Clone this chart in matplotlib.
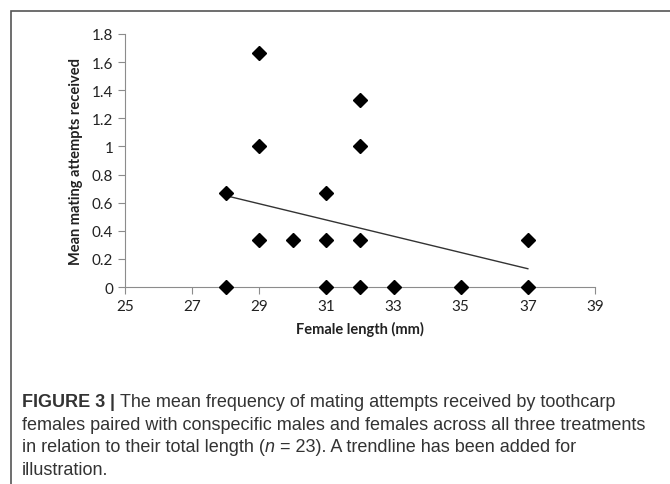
import matplotlib.pyplot as plt
from matplotlib.patches import Rectangle

# female length (mm) vs mean mating attempts received
length = [28, 28, 29, 29, 29, 30, 31, 31, 31, 32, 32, 32, 32, 33, 35, 37, 37]
attempts = [0.667, 0, 1.667, 1, 0.333, 0.333, 0.667, 0.333, 0, 1.333, 1, 0.333, 0, 0, 0, 0.333, 0]
trend_x = [28, 37]
trend_y = [0.65, 0.13]
xticks = [25, 27, 29, 31, 33, 35, 37, 39]
yticks = [0, 0.2, 0.4, 0.6, 0.8, 1, 1.2, 1.4, 1.6, 1.8]
ytick_labels = ['0', '0.2', '0.4', '0.6', '0.8', '1', '1.2', '1.4', '1.6', '1.8']

plt.rcParams['font.family'] = ['Lato', 'DejaVu Sans']

fig = plt.figure(figsize=(6.7, 4.85), dpi=100)
# outer frame
fig.patches.append(Rectangle((11/670, -0.05), 700/670, 1 - 12/485 + 0.05,
                             transform=fig.transFigure, fill=False,
                             edgecolor='#555555', lw=1.2))

ax = fig.add_axes([125/670, 1 - 288/485, 470/670, 253/485])
ax.plot(trend_x, trend_y, color='#333333', lw=1, zorder=2)
ax.plot(length, attempts, 'D', color='black', ms=7.5, zorder=3, clip_on=False)

ax.set_xlim(25, 39)
ax.set_ylim(0, 1.8)
ax.set_xticks(xticks)
ax.set_yticks(yticks)
ax.set_yticklabels(ytick_labels)
for s in ['top', 'right']:
    ax.spines[s].set_visible(False)
for s in ['left', 'bottom']:
    ax.spines[s].set_color('#8c8c8c')
ax.tick_params(axis='both', color='#8c8c8c', length=5, labelsize=11, labelcolor='#222222')
ax.set_xlabel('Female length (mm)', fontsize=10.5, fontweight='bold', color='#222222', labelpad=6)
ax.set_ylabel('Mean mating attempts received', fontsize=10.5, fontweight='bold', color='#222222', labelpad=6)

# caption
cap = dict(fontsize=13, color='#333333', family=['Liberation Sans'])
t1 = fig.text(22/670, 1 - 407/485, 'FIGURE 3 ', fontweight='bold', va='baseline', **cap)
a1 = ax.annotate('| ', xy=(1, 0), xycoords=t1, va='bottom', fontweight='bold', **cap)
ax.annotate('The mean frequency of mating attempts received by toothcarp',
            xy=(1, 0), xycoords=a1, va='bottom', **cap)
fig.text(22/670, 1 - 430/485,
         'females paired with conspecific males and females across all three treatments',
         va='baseline', **cap)
t3 = fig.text(22/670, 1 - 452/485, 'in relation to their total length (', va='baseline', **cap)
a3 = ax.annotate('n', xy=(1, 0), xycoords=t3, va='bottom', style='italic', **cap)
ax.annotate(' = 23). A trendline has been added for', xy=(1, 0), xycoords=a3, va='bottom', **cap)
fig.text(22/670, 1 - 475/485, 'illustration.', va='baseline', **cap)

fig.savefig('out.png', dpi=100)
